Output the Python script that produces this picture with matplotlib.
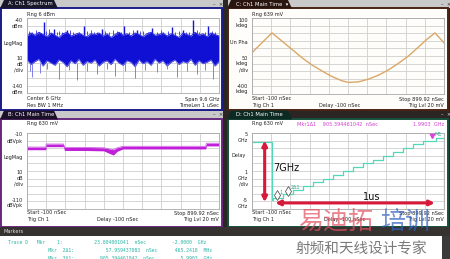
import numpy as np
import matplotlib
matplotlib.use("Agg")
import matplotlib.pyplot as plt
from matplotlib.patches import Rectangle, Polygon

W, H = 450, 259

# ---- values ----
# A: spectrum, frequency in GHz, level in dBm
spec_freq = [1.2, 1.4, 1.6, 1.8, 2.0, 2.2, 2.4, 2.6, 2.8, 3.0, 3.2, 3.4, 3.6,
             3.8, 4.0, 4.2, 4.4, 4.6, 4.8, 5.0, 5.2, 5.4, 5.6, 5.8, 6.0, 6.2,
             6.4, 6.6, 6.8, 7.0, 7.2, 7.4, 7.6, 7.8, 8.0, 8.2, 8.4, 8.6, 8.8,
             9.0, 9.2, 9.4, 9.6, 9.8, 10.0, 10.2, 10.4, 10.6, 10.8]
spec_top = [-64, -60, -63, -59, -62, -65, -60, -63, -66, -61, -59, -64, -62,
            -60, -63, -65, -61, -62, -60, -64, -61, -66, -62, -59, -63, -61,
            -64, -60, -62, -65, -61, -59, -63, -62, -60, -64, -61, -63, -66,
            -60, -62, -64, -59, -63, -61, -65, -60, -62, -64]
spec_bot = [-96, -102, -98, -95, -104, -97, -100, -103, -96, -99, -105, -97,
            -101, -95, -103, -98, -100, -96, -104, -99, -97, -102, -95, -100,
            -103, -97, -99, -105, -96, -101, -98, -103, -95, -100, -97, -104,
            -99, -96, -102, -98, -100, -95, -103, -97, -101, -99, -96, -104, -98]
peak_freq = [2.03, 2.53, 3.2, 4.03, 4.94, 6.03, 6.69, 7.44, 8.44, 9.02, 9.52, 10.27]
peak_dbm = [-45, -54, -56, -51, -55, -51, -56, -53, -52, -56, -43, -50]
spur_freq = [1.3, 1.45, 1.65, 1.8, 2.15, 2.3, 2.7, 2.8, 2.95, 3.35, 3.5, 3.8,
             4.2, 4.4, 4.55, 4.7, 5.1, 5.3, 5.5, 5.7, 5.9, 6.3, 6.5, 6.85,
             7.0, 7.25, 7.7, 7.9, 8.0, 8.25, 8.6, 8.8, 9.15, 9.3, 9.7, 9.8,
             10.1, 10.45, 10.6]
spur_dbm = [-57, -58, -56, -59, -57, -55, -58, -57, -59, -56, -59, -58,
            -57, -56, -59, -58, -57, -58, -56, -57, -59, -58, -56, -57,
            -57, -59, -58, -56, -58, -57, -59, -57, -58, -59, -56, -58,
            -59, -57, -58]
dip_freq = [1.35, 1.45, 1.83, 2.2, 2.78, 3.3, 3.7, 4.2, 4.69, 5.2, 5.61, 6.1,
            6.61, 7.1, 7.69, 8.2, 8.69, 9.2, 9.69, 10.1, 10.52]
dip_dbm = [-110, -118, -113, -108, -121, -109, -122, -110, -115, -108, -117,
           -110, -120, -109, -112, -108, -118, -110, -114, -109, -121]

# B: log magnitude vs time (ns, dBVpk)
b_time = [-100, -2, 0, 90, 95, 200, 300, 330, 350, 370, 400, 500, 600, 830, 835, 900]
b_top = [-28.5, -28.5, -24.5, -24.5, -29, -29, -29.5, -31, -32, -29.5, -27.5, -27.5, -27.5, -27.5, -23.5, -23.5]
b_bot = [-32, -32, -28, -28, -33, -33, -33.5, -37, -39, -34, -31, -31, -31, -31, -27, -27]

# C: unwrapped phase vs time (ns, kdeg)
c_time = [-100, 4, 56, 108, 160, 212, 264, 316, 368, 403, 455, 507, 559,
          611, 663, 715, 767, 810, 853, 900]
c_phase = [-128, 2, -52, -106, -161, -209, -248, -285, -313, -324, -320, -302,
           -276, -241, -198, -150, -91, -41, 2, -63]

# D: frequency vs time (ns, GHz), stepped
d_time = [-100, 4, 10, 62, 114, 166, 218, 270, 322, 374, 426, 478, 530,
          582, 634, 686, 738, 790, 857, 900]
d_freq = [3.8, -3.8, -3.5, -3.0, -2.5, -2.0, -1.5, -1.0, -0.5, 0.0, 0.5,
          1.0, 1.5, 2.0, 2.5, 3.0, 3.5, 4.0, 4.3, -4.8]

# marker table rows
marker_rows = [
    "Trace D   Mkr    1:           23.804001041  nSec         -2.0000  GHz",
    "              Mkr  2\u03941:           57.959437083  nSec      465.2418  MHz",
    "              Mkr  3\u03941:         905.394461042  nSec         5.9903  GHz",
]

fig = plt.figure(figsize=(4.5, 2.59), dpi=100)
fig.patch.set_facecolor("#2b2623")


def fx(x):
    return x / W


def fy(y):
    return 1 - y / H


def box(x0, y0, x1, y1, fc, ec="none", lw=0):
    fig.patches.append(Rectangle((fx(x0), fy(y1)), (x1 - x0) / W, (y1 - y0) / H,
                                 transform=fig.transFigure, facecolor=fc,
                                 edgecolor=ec, linewidth=lw, zorder=-2))


def tab(x0, x1, y0, y1, fc):
    pts = [(fx(x0), fy(y1)), (fx(x0 + 4), fy(y0)), (fx(x1 - 4), fy(y0)), (fx(x1), fy(y1))]
    fig.patches.append(Polygon(pts, closed=True, transform=fig.transFigure,
                               facecolor=fc, edgecolor="none", zorder=-1))


def txt(x, y, s, size=3.6, color="#202020", ha="left", **kw):
    fig.text(fx(x), fy(y), s, fontsize=size, color=color, ha=ha, va="center", **kw)


# title strips and tabs
box(0, 0, 223, 8, "#c9c9c9")
box(228, 0, 450, 8, "#c9c9c9")
box(0, 111, 223, 119, "#c9c9c9")
tab(0, 58, 0, 8.5, "#17172a")
tab(227, 292, 0, 8.5, "#2a1510")
tab(0, 58, 110.5, 119.5, "#1c1028")
tab(227, 292, 110.5, 119.5, "#0c2a22")
txt(8, 4, "A: Ch1 Spectrum", 3.8, "white")
txt(236, 4, "C: Ch1 Main Time  \u25be", 3.8, "white")
txt(8, 115, "B: Ch1 Main Time", 3.8, "white")
txt(236, 115, "D: Ch1 Main Time", 3.8, "white")
for xi, yi, c in [(213, 4, "#303030"), (441, 4, "#303030"), (213, 115, "#303030"), (441, 115, "#e0e0e0")]:
    txt(xi, yi, "\u2013  \u00d7", 3.8, c)

# panel bodies
box(1, 8, 222, 110, "white", "#1e1e8c", 1.4)
box(228, 8, 448, 110, "#fffdf9", "#4a2415", 1.4)
box(1, 119, 222, 227, "white", "#6a2a80", 1.4)
box(228, 119, 448, 227, "white", "#15503c", 1.4)


def plot_area(x0, y0, x1, y1, xlim, ylim, ndiv_y=10):
    ax = fig.add_axes([fx(x0), fy(y1), (x1 - x0) / W, (y1 - y0) / H])
    ax.set_xlim(*xlim)
    ax.set_ylim(*ylim)
    ax.set_xticks(np.linspace(xlim[0], xlim[1], 11))
    ax.set_yticks(np.linspace(ylim[0], ylim[1], ndiv_y + 1))
    ax.tick_params(length=0, labelbottom=False, labelleft=False)
    ax.grid(True, color="#cfcfcf", linewidth=0.6)
    ax.set_axisbelow(True)
    ax.set_facecolor("none")
    for sp in ax.spines.values():
        sp.set_color("#a8a8a8")
        sp.set_linewidth(0.6)
    return ax


# ---- A: spectrum ----
axA = plot_area(27, 18, 219, 93, (1.2, 10.8), (-140, -40))
axA.vlines(dip_freq, -100, dip_dbm, color="#6c6ce8", linewidth=0.6)
axA.vlines(spur_freq, -62, spur_dbm, color="#3434dc", linewidth=0.6)
axA.vlines(peak_freq, -62, peak_dbm, color="#1414d6", linewidth=1.0)
axA.fill_between(spec_freq, spec_bot, spec_top, color="#1010d4", linewidth=0)
axA.plot(spec_freq, spec_bot, color="#6666e6", linewidth=0.7)
axA.plot(spec_freq, spec_top, color="#2a2ae0", linewidth=0.7)

txt(27, 14.5, "Rng 6 dBm")
for y, s in [(20, "-40"), (26, "dBm"), (58, "10"), (64, "dB"), (70.5, "/div"), (86, "-140"), (92, "dBm")]:
    txt(23, y, s, ha="right")
txt(3, 43, "LogMag")
txt(27, 99, "Center 6 GHz")
txt(27, 105, "Res BW 1 MHz")
txt(219, 99, "Span 9.6 GHz", ha="right")
txt(219, 105, "TimeLen 1 uSec", ha="right")

# ---- C: unwrapped phase ----
axC = plot_area(252, 18, 444, 94, (-100, 900), (-400, 100))
axC.plot(c_time, c_phase, color="#d9a766", linewidth=1.0)
txt(252, 14.5, "Rng 639 mV")
for y, s in [(20, "100"), (26, "kdeg"), (58, "50"), (64, "kdeg"), (70.5, "/div"), (86, "-400"), (92, "kdeg")]:
    txt(248, y, s, ha="right")
txt(229.5, 42, "Un Pha")
txt(252, 99, "Start -100 nSec")
txt(252, 105, "Trig Ch 1")
txt(340, 105, "Delay -100 nSec", ha="center")
txt(444, 99, "Stop 899.92 nSec", ha="right")
txt(444, 105, "Trig Lvl 20 mV", ha="right")

# ---- B: log magnitude vs time ----
axB = plot_area(27, 133, 219, 209, (-100, 900), (-110, -10))
axB.fill_between(b_time, b_bot, b_top, color="#c020d8", linewidth=0)
axB.plot(b_time, b_top, color="#d060e8", linewidth=0.6)
txt(27, 123.5, "Rng 630 mV")
for y, s in [(135, "-10"), (141, "dBVpk"), (172, "10"), (178, "dB"), (184, "/div"), (200, "-110"), (206, "dBVpk")]:
    txt(23, y, s, ha="right")
txt(3, 157, "LogMag")
txt(27, 213, "Start -100 nSec")
txt(27, 219, "Trig Ch 1")
txt(118, 219, "Delay -100 nSec", ha="center")
txt(219, 213, "Stop 899.92 nSec", ha="right")
txt(219, 219, "Trig Lvl 20 mV", ha="right")

# ---- D: frequency vs time ----
axD = plot_area(252, 133, 444, 209, (-100, 900), (-5, 5))
axD.plot(d_time, d_freq, color="#52d8b8", linewidth=0.9, drawstyle="steps-post")
axD.plot([30], [-3.2], marker="d", markersize=5, mfc="white", mec="#404040", mew=0.5)
axD.plot([87], [-2.6], marker="d", markersize=5, mfc="white", mec="#404040", mew=0.5)
axD.text(45, -3.0, "1", fontsize=3.6, color="#30b090")
axD.text(102, -2.4, "2\u03941", fontsize=3.6, color="#30b090")
axD.plot([836], [4.8], marker="v", markersize=4, color="#e040e0")
axD.text(853, 4.6, "M1", fontsize=3.6, color="#30b090")
axD.annotate("", xy=(-34, 4.0), xytext=(-34, -4.1),
             arrowprops=dict(arrowstyle="<|-|>", color="#d81a3a", lw=2.2,
                             mutation_scale=7, shrinkA=0, shrinkB=0))
axD.annotate("", xy=(21, -4.2), xytext=(852, -4.2),
             arrowprops=dict(arrowstyle="<|-|>", color="#d81a3a", lw=2.2,
                             mutation_scale=7, shrinkA=0, shrinkB=0))
axD.text(8, 0.4, "7GHz", fontsize=7, color="#101010", va="center")
axD.text(478, -3.45, "1us", fontsize=7, color="#101010", va="center")
txt(252, 123.5, "Rng 630 mV")
txt(297, 125, "Mkr1\u03941    905.394461042  nSec", color="#d040d0")
txt(444, 125, "1.9903  GHz", color="#d040d0", ha="right")
for y, s in [(135, "5"), (141, "GHz"), (172, "1"), (178, "GHz"), (184, "/div"), (200, "-5"), (206, "GHz")]:
    txt(248, y, s, ha="right")
txt(231, 156, "Delay")
txt(252, 213, "Start -100 nSec")
txt(252, 219, "Trig Ch 1")
txt(345, 219, "Delay -100 nSec", ha="center")
txt(444, 213, "Stop 899.92 nSec", ha="right")
txt(444, 219, "Trig Lvl 20 mV", ha="right")

# ---- marker table ----
box(0, 227, 450, 236, "#353230")
txt(3, 231.5, "Markers", 3.6, "#e0e0e0")
box(0, 236, 442, 259, "white")
box(442, 236, 450, 259, "#3a3a3a")
for i, row in enumerate(marker_rows):
    txt(8, 242 + 8 * i, row, 3.4, "#28b4a4", family="monospace")

# watermark
fig.text(fx(298), fy(223), "\u6613\u8fea\u62d3", fontsize=18, color="#e05060", alpha=0.7,
         family=["Noto Sans CJK SC"], va="center", ha="left")
fig.text(fx(380), fy(223), "\u57f9\u8bad", fontsize=18, color="#3060c0", alpha=0.7,
         family=["Noto Sans CJK SC"], va="center", ha="left")
fig.text(fx(296), fy(250), "\u5c04\u9891\u548c\u5929\u7ebf\u8bbe\u8ba1\u4e13\u5bb6", fontsize=10.5,
         color="#7a7a7a", family=["Noto Sans CJK SC"], va="center", ha="left")

fig.savefig("out.png", dpi=100)
